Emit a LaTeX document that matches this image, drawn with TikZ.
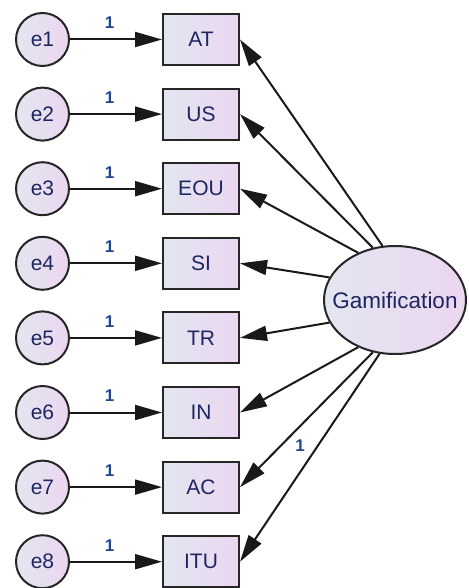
\documentclass[tikz,border=0pt]{standalone}
\usepackage{fontspec}
\setmainfont{Liberation Sans}
\usetikzlibrary{arrows.meta,shapes.geometric}
\definecolor{txtnavy}{RGB}{30,38,95}
\definecolor{onecol}{RGB}{32,70,140}
\definecolor{fillA}{RGB}{226,230,240}
\definecolor{fillB}{RGB}{236,214,240}
\begin{document}
\begin{tikzpicture}[x=1pt,y=-1pt,
  grad/.style={left color=fillA, right color=fillB},
  obsbox/.style={draw=black!85, line width=2pt, grad, rectangle,
    minimum width=76pt, minimum height=51pt, inner sep=0pt,
    font=\fontsize{21}{21}\selectfont, text=txtnavy},
  errcirc/.style={draw=black!85, line width=2pt, grad, circle,
    minimum size=53pt, inner sep=0pt,
    font=\fontsize{21}{21}\selectfont, text=txtnavy},
  latent/.style={draw=black!85, line width=2pt, grad, ellipse,
    minimum width=142pt, minimum height=108pt, inner sep=0pt},
  latenttxt/.style={font=\fontsize{22.5}{22.5}\selectfont, text=txtnavy, inner sep=0pt},
  path/.style={line width=2pt, draw=black!90,
    -{Triangle[length=27pt,width=15pt]}},
  wt/.style={font=\fontsize{17}{17}\selectfont\bfseries, text=onecol}
]
\useasboundingbox (0,0) rectangle (468,588);

% latent factor
\node[latent] (g) at (395,300) {};
\node[latenttxt] (gname) at (g.center) {Gamification};

% indicators and their error terms
\foreach \i/\lab/\y in {1/AT/39.5, 2/US/114.1, 3/EOU/188.7, 4/SI/263.3,
                        5/TR/337.9, 6/IN/412.5, 7/AC/487.1, 8/ITU/561.7}{
  \node[obsbox] (b\i) at (201,\y) {\lab};
  \node[errcirc] (e\i) at (42.5,\y) {e\i};
  \draw[path] (e\i) -- node[wt, pos=0.43, yshift=16.5pt] {1} (b\i);
}

% factor loadings
\draw[path] (g.103.5) -- (b1.east);
\draw[path] (g.113)   -- (b2.east);
\draw[path] (g.128.5) -- (b3.east);
\draw[path] (g.161)   -- (b4.east);
\draw[path] (g.199)   -- (b5.east);
\draw[path] (g.232)   -- (b6.east);
\draw[path] (g.247.5) -- node[wt, pos=0.69, xshift=19pt] {1} (b7.east);
\draw[path] (g.254.5) -- (b8.east);
\end{tikzpicture}
\end{document}
